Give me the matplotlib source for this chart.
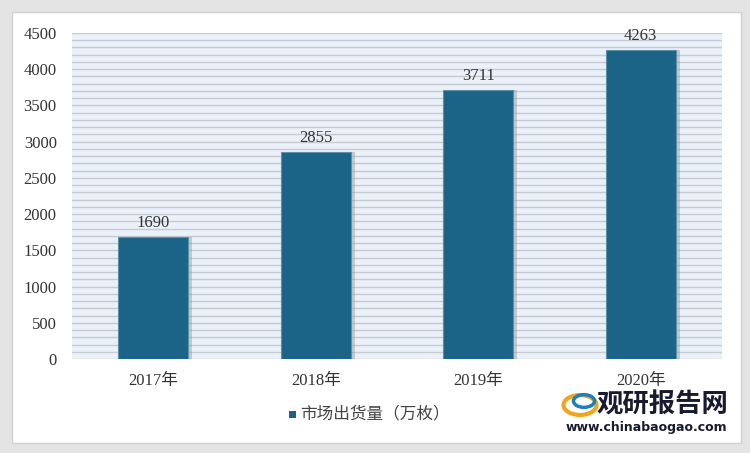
import numpy as np
import matplotlib.pyplot as plt
from matplotlib.patches import Rectangle

plt.rcParams['font.family'] = ['Liberation Serif', 'Noto Sans CJK SC']

years = ["2017年", "2018年", "2019年", "2020年"]
shipments = [1690, 2855, 3711, 4263]
series_name = "市场出货量（万枚）"

bar_color = "#1b6487"

fig = plt.figure(figsize=(7.5, 4.53), dpi=100)
fig.patch.set_facecolor("#e4e4e4")

# white panel with soft shadow
fig.patches.append(Rectangle((12 / 750, 10 / 453), 729 / 750, 431 / 453,
                             transform=fig.transFigure, facecolor="white",
                             edgecolor="#d0d0d0", linewidth=1.0, zorder=-5))

ax = fig.add_axes([72 / 750, (453 - 359) / 453, 650 / 750, 326 / 453])
ax.set_zorder(2)
ax.set_facecolor("#eaf1f8")

# striped background
for yv in np.arange(0, 4501, 100):
    ax.axhline(yv, color="#c6cbd2", linewidth=1.0, zorder=0)

x = np.arange(len(years))
# shadow behind bars
ax.bar(x + 0.02, shipments, width=0.44, color="#9a9a9a", alpha=0.45, zorder=1)
ax.bar(x, shipments, width=0.43, color=bar_color, edgecolor="#5d8fa8",
       linewidth=0.8, zorder=2)

for xi, v in zip(x, shipments):
    ax.text(xi, v + 80, str(v), ha="center", va="bottom", fontsize=12,
            color="#333333")

ax.set_xlim(-0.5, 3.5)
ax.set_ylim(0, 4500)
ax.set_yticks(np.arange(0, 4501, 500))
ax.set_xticks(x)
ax.set_xticklabels(years, fontsize=12, color="#333333")
ax.tick_params(axis="y", labelsize=12, labelcolor="#333333", length=0, pad=11)
ax.tick_params(axis="x", length=0, pad=10)
for s in ax.spines.values():
    s.set_visible(False)

# legend
fig.patches.append(Rectangle((289 / 750, (453 - 418) / 453), 7 / 750, 7 / 453,
                             transform=fig.transFigure, facecolor=bar_color,
                             edgecolor="none", zorder=3))
fig.text(300 / 750, (453 - 414) / 453, series_name, fontsize=12,
         family=['Noto Sans CJK SC'], color="#444444", va="center")

# watermark logo
fig.text(597 / 750, (453 - 405) / 453, "观研报告网", fontsize=19,
         family=['Noto Sans CJK SC'], fontweight="bold", color="#1a1a2e",
         va="center")
fig.text(566 / 750, (453 - 427) / 453, "www.chinabaogao.com", fontsize=9,
         family=['DejaVu Sans'], fontweight="bold", color="#1a1a2e",
         va="center")
fig.patches.append(plt.Circle((580 / 750, (453 - 405) / 453), 0.022,
                              transform=fig.transFigure, facecolor="none",
                              edgecolor="#f2a51a", linewidth=3, zorder=3))
fig.patches.append(plt.Circle((584 / 750, (453 - 401) / 453), 0.014,
                              transform=fig.transFigure, facecolor="none",
                              edgecolor="#1e7fbf", linewidth=2.5, zorder=3))

fig.savefig("out.png", dpi=100, facecolor=fig.get_facecolor())
